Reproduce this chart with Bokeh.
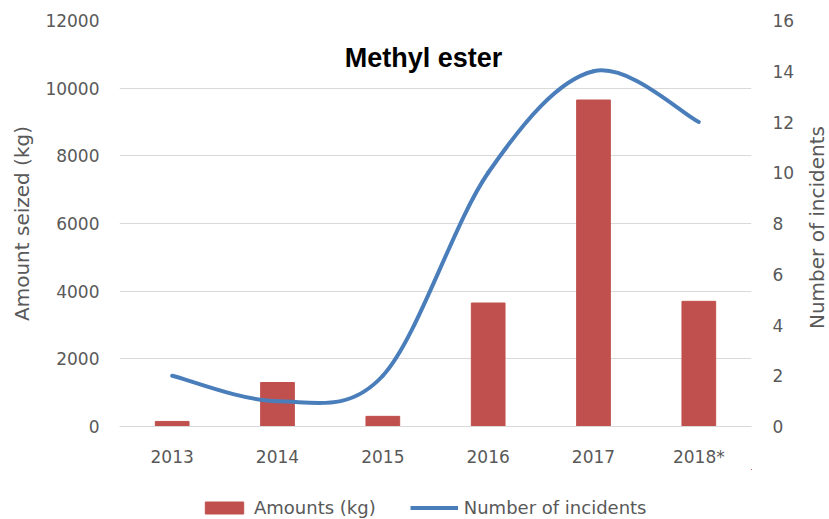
import math
from bokeh.plotting import figure
from bokeh.layouts import column, row
from bokeh.models import Range1d, LinearAxis, FixedTicker, Legend, LegendItem, Label
from bokeh.embed import file_html
from bokeh.resources import INLINE

years = ["2013", "2014", "2015", "2016", "2017", "2018*"]
amounts_kg = [150, 1300, 300, 3650, 9650, 3700]
incidents = [2, 1, 2, 10, 14, 12]
left_ticks = [0, 2000, 4000, 6000, 8000, 10000, 12000]
right_ticks = [0, 2, 4, 6, 8, 10, 12, 14, 16]

RED = "#C0504D"
BLUE = "#4A7EBB"
GREY = "#595959"
GRID = "#D9D9D9"
FONT = "DejaVu Sans"

xs = [i + 0.5 for i in range(len(years))]

p = figure(width=799, height=469, output_backend="svg", toolbar_location=None,
           x_range=Range1d(0, len(years)), y_range=Range1d(0, left_ticks[-1]),
           min_border_left=119, min_border_right=48, min_border_top=20, min_border_bottom=41)
p.extra_y_ranges = {"inc": Range1d(0, right_ticks[-1])}
p.outline_line_color = None
p.background_fill_color = "white"
p.border_fill_color = "white"

p.xgrid.visible = False
p.ygrid.ticker = FixedTicker(ticks=left_ticks)
p.ygrid.grid_line_color = GRID
p.ygrid.grid_line_width = 1


def style_axis(ax):
    ax.major_tick_line_color = None
    ax.minor_tick_line_color = None
    ax.major_tick_out = 0
    ax.major_tick_in = 0
    ax.minor_tick_out = 0
    ax.minor_tick_in = 0
    ax.major_label_standoff = 20
    ax.major_label_text_font = FONT
    ax.major_label_text_font_size = "17px"
    ax.major_label_text_color = GREY
    ax.axis_label_text_font = FONT
    ax.axis_label_text_font_size = "20px"
    ax.axis_label_text_font_style = "normal"
    ax.axis_label_text_color = GREY


# x axis
xa = p.xaxis[0]
style_axis(xa)
xa.ticker = FixedTicker(ticks=xs)
xa.major_label_overrides = {x: y for x, y in zip(xs, years)}
xa.axis_line_color = GRID

# left axis
ya = p.yaxis[0]
style_axis(ya)
ya.ticker = FixedTicker(ticks=left_ticks)
ya.axis_line_color = None
ya.axis_label = "Amount seized (kg)"
ya.axis_label_standoff = 8

# right axis
ra = LinearAxis(y_range_name="inc", ticker=FixedTicker(ticks=right_ticks))
style_axis(ra)
ra.axis_line_color = None
ra.major_label_standoff = 21
p.add_layout(ra, "right")

# bars
bars = p.vbar(x=xs, top=amounts_kg, width=0.32, fill_color=RED, line_color=RED)

# smoothed line (Excel-style cubic Bezier through the data points)
n = len(incidents)
x0, y0, x1, y1, cx0, cy0, cx1, cy1 = [], [], [], [], [], [], [], []
for i in range(n - 1):
    xm, ym = xs[max(i - 1, 0)], incidents[max(i - 1, 0)]
    xa_, ya_ = xs[i], incidents[i]
    xb, yb = xs[i + 1], incidents[i + 1]
    xp, yp = xs[min(i + 2, n - 1)], incidents[min(i + 2, n - 1)]
    x0.append(xa_); y0.append(ya_)
    x1.append(xb); y1.append(yb)
    cx0.append(xa_ + (xb - xm) / 6); cy0.append(ya_ + (yb - ym) / 6)
    cx1.append(xb - (xp - xa_) / 6); cy1.append(yb - (yp - ya_) / 6)
p.bezier(x0=x0, y0=y0, x1=x1, y1=y1, cx0=cx0, cy0=cy0, cx1=cx1, cy1=cy1,
         y_range_name="inc", line_color=BLUE, line_width=4, line_cap="round")

title = Label(x=304, y=369, x_units="screen", y_units="screen", text="Methyl ester",
              text_font="Liberation Sans", text_font_style="bold", text_font_size="27px",
              text_align="center", text_baseline="middle", text_color="black")
p.add_layout(title)

# narrow strip on the right carrying the secondary axis title (reads bottom to top)
rf = figure(width=30, height=469, output_backend="svg", toolbar_location=None,
            x_range=Range1d(0, 1), y_range=Range1d(0, 1),
            min_border_left=0, min_border_right=0, min_border_top=20, min_border_bottom=41)
rf.axis.visible = False
rf.grid.visible = False
rf.outline_line_color = None
rf.border_fill_color = "white"
rf.background_fill_color = "white"
rf.add_layout(Label(x=17, y=199, x_units="screen", y_units="screen",
                    text="Number of incidents", angle=math.pi / 2,
                    text_font=FONT, text_font_size="20px", text_color=GREY,
                    text_align="center", text_baseline="middle"))

# legend strip below the chart (its renderers lie far outside its visible
# ranges, so only the legend itself is seen)
lg = figure(width=829, height=50, output_backend="svg", toolbar_location=None,
            x_range=Range1d(-60, -54), y_range=Range1d(-200, -199),
            min_border_left=119, min_border_right=78, min_border_top=0, min_border_bottom=0)
lg.axis.visible = False
lg.grid.visible = False
lg.outline_line_color = None
lg.border_fill_color = "white"
leg_bar = lg.vbar(x=xs, top=amounts_kg, width=0.32, fill_color=RED, line_color=RED)
leg_line = lg.line(x=xs, y=incidents, line_color=BLUE, line_width=4)
legend = Legend(items=[LegendItem(label="Amounts (kg)", renderers=[leg_bar]),
                       LegendItem(label="Number of incidents", renderers=[leg_line])],
                orientation="horizontal", location=(80, 0),
                glyph_width=48, glyph_height=15, label_standoff=6, spacing=34,
                padding=1, margin=0, border_line_alpha=0, background_fill_alpha=0,
                label_text_font=FONT, label_text_font_size="18px", label_text_color=GREY)
lg.add_layout(legend, "center")

open("out.html", "w").write(file_html(column(row(p, rf, spacing=0), lg, spacing=0), INLINE))
